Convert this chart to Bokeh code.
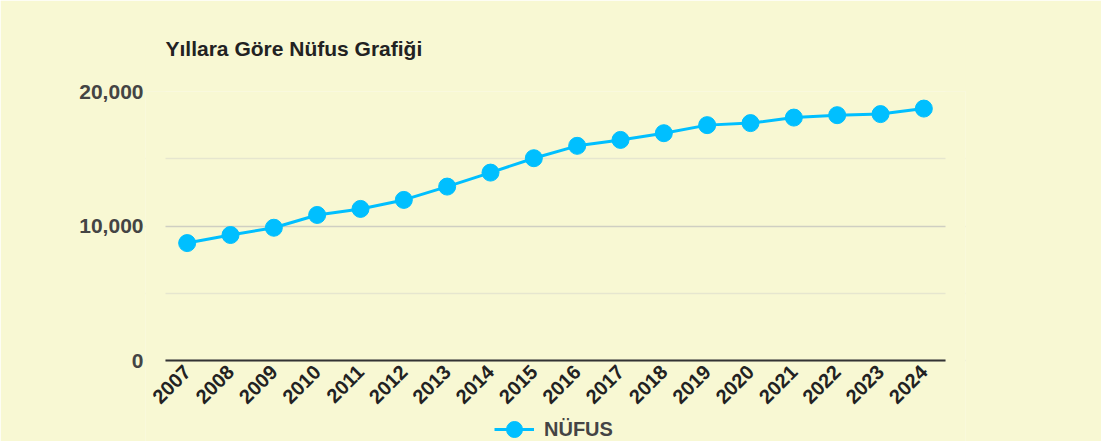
from math import pi
from bokeh.plotting import figure
from bokeh.models import (FactorRange, Range1d, FixedTicker, NumeralTickFormatter,
                          Legend, LegendItem, BoxAnnotation)
from bokeh.embed import file_html
from bokeh.resources import INLINE

years = ["2007", "2008", "2009", "2010", "2011", "2012", "2013", "2014", "2015",
         "2016", "2017", "2018", "2019", "2020", "2021", "2022", "2023", "2024"]
population = [8730, 9330, 9870, 10820, 11270, 11940, 12930, 13970, 15040,
              15960, 16400, 16900, 17500, 17650, 18060, 18240, 18320, 18730]
y_ticks = [0, 10000, 20000]
y_minor = [5000, 15000]
series_name = "NÜFUS"
title_text = "Yıllara Göre Nüfus Grafiği"

BG = "#f8f8d3"
LINE = "#00bfff"
FONT = "Liberation Sans"

# layout (pixels)
W, H = 1101, 441
PLOT_L, PLOT_R = 165, 945          # visible plot area
FRAME_TOP, ZERO_Y = 91, 360
PAD = 20                            # extra frame on each side (keeps labels unclipped)
Y_MAX = 20000
y_min = -(H - ZERO_Y) * Y_MAX / (ZERO_Y - FRAME_TOP)
pad_units = PAD * len(years) / (PLOT_R - PLOT_L)

p = figure(width=W, height=H,
           x_range=FactorRange(*years, range_padding=pad_units,
                               range_padding_units="absolute"),
           y_range=Range1d(y_min, Y_MAX), output_backend="svg",
           toolbar_location=None, title=title_text,
           min_border_left=PLOT_L - PAD, min_border_right=W - PLOT_R - PAD,
           min_border_top=FRAME_TOP, min_border_bottom=0)

p.background_fill_color = BG
p.border_fill_color = BG
p.outline_line_color = None

p.title.text_font = FONT
p.title.text_font_size = "21px"
p.title.text_font_style = "bold"
p.title.text_color = "#222222"
p.title.align = "left"
p.title.offset = PAD
p.title.standoff = 64

# grid
p.xgrid.grid_line_color = None
p.ygrid.ticker = FixedTicker(ticks=y_ticks, minor_ticks=y_minor)
p.ygrid.grid_line_color = "#cfcfc2"
p.ygrid.grid_line_width = 1.5
p.ygrid.minor_grid_line_color = "#e6e6cf"
p.ygrid.minor_grid_line_width = 1.5

# hide the grid in the side padding of the frame
p.add_layout(BoxAnnotation(left=0, right=PAD, left_units="screen", right_units="screen",
                           fill_color=BG, fill_alpha=1, line_color=None,
                           level="underlay"))
p.add_layout(BoxAnnotation(left=PLOT_R - PLOT_L + PAD, left_units="screen",
                           fill_color=BG, fill_alpha=1, line_color=None,
                           level="underlay"))

# y axis
p.yaxis.ticker = FixedTicker(ticks=y_ticks, minor_ticks=y_minor)
p.yaxis.formatter = NumeralTickFormatter(format="0,0")
p.yaxis.axis_line_color = None
p.yaxis.major_tick_line_color = None
p.yaxis.minor_tick_line_color = None
p.yaxis.major_tick_out = 0
p.yaxis.minor_tick_out = 0
p.yaxis.major_label_standoff = 2
p.yaxis.major_label_text_font = FONT
p.yaxis.major_label_text_font_size = "21px"
p.yaxis.major_label_text_font_style = "bold"
p.yaxis.major_label_text_color = "#444444"

# x axis, drawn at y = 0
p.xaxis.fixed_location = 0
p.xaxis.bounds = (0, len(years))
p.xaxis.axis_line_color = "#333333"
p.xaxis.axis_line_width = 2
p.xaxis.major_tick_line_color = None
p.xaxis.major_tick_out = 0
p.xaxis.major_label_standoff = 8
p.xaxis.major_label_orientation = pi / 4
p.xaxis.major_label_text_font = FONT
p.xaxis.major_label_text_font_size = "20px"
p.xaxis.major_label_text_font_style = "bold"
p.xaxis.major_label_text_color = "#222222"

ln = p.line(years, population, line_color=LINE, line_width=3)
sc = p.scatter(years, population, size=17, fill_color=LINE, line_color=LINE)

legend = Legend(items=[LegendItem(label=series_name, renderers=[ln, sc])],
                location=(349, -8), orientation="horizontal",
                glyph_width=40, glyph_height=40, padding=2, margin=0,
                label_standoff=10, border_line_color=None,
                background_fill_alpha=0,
                label_text_font=FONT, label_text_font_size="20px",
                label_text_font_style="bold", label_text_color="#444444")
p.add_layout(legend, "center")

open("out.html", "w").write(file_html(p, INLINE))
